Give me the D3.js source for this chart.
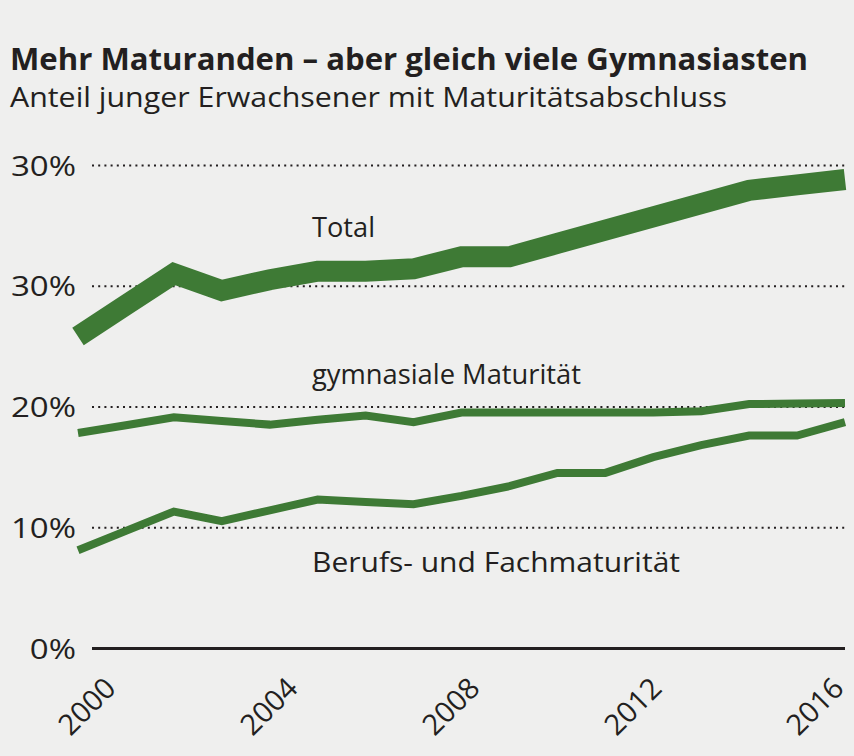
<!DOCTYPE html>
<html>
<head>
<meta charset="utf-8">
<script src="https://cdn.jsdelivr.net/npm/d3@7"></script>
<style>
  body { margin: 0; background: #efefee; }
  svg { display: block; }
</style>
</head>
<body>
<svg width="854" height="756"></svg>
<script>
// Daten (Anteil in %)
const years = [2000, 2001, 2002, 2003, 2004, 2005, 2006, 2007, 2008, 2009, 2010, 2011, 2012, 2013, 2014, 2015, 2016];
const total = [25.8, 28.4, 31.0, 29.6, 30.5, 31.2, 31.2, 31.4, 32.4, 32.4, 33.5, 34.6, 35.7, 36.8, 37.9, 38.35, 38.8];
const gymnasial = [17.8, 18.45, 19.1, 18.8, 18.5, 18.9, 19.25, 18.7, 19.5, 19.5, 19.5, 19.5, 19.5, 19.6, 20.2, 20.25, 20.3];
const berufs = [8.1, 9.7, 11.3, 10.5, 11.4, 12.3, 12.1, 11.9, 12.6, 13.4, 14.5, 14.5, 15.8, 16.8, 17.6, 17.6, 18.7];
const seriesNames = ["Total", "gymnasiale Maturität", "Berufs- und Fachmaturität"];
const yTicks = [0, 10, 20, 30, 40];
const yTickLabels = ["0%", "10%", "20%", "30%", "30%"];
const xTicks = [2000, 2004, 2008, 2012, 2016];

const green = "#3e7a35";
const ink = "#231f20";
const font = "'Open Sans', 'Noto Sans', sans-serif";

const svg = d3.select("svg");

// Titel
svg.append("text")
   .attr("x", 10).attr("y", 70)
   .attr("font-family", font).attr("font-weight", 700).attr("font-size", 30)
   .attr("fill", ink)
   .attr("textLength", 798).attr("lengthAdjust", "spacingAndGlyphs")
   .text("Mehr Maturanden – aber gleich viele Gymnasiasten");

svg.append("text")
   .attr("x", 10).attr("y", 107)
   .attr("font-family", font).attr("font-size", 28)
   .attr("fill", ink)
   .attr("textLength", 717).attr("lengthAdjust", "spacingAndGlyphs")
   .text("Anteil junger Erwachsener mit Maturitätsabschluss");

// Skalen
const x = d3.scaleLinear().domain([2000, 2016]).range([78, 845]);
const xLabel = d3.scaleLinear().domain([2000, 2016]).range([117, 845]);
const y = d3.scaleLinear().domain([0, 40]).range([648, 165]);

// Y-Achse mit gepunkteten Linien
const yAxis = svg.append("g")
   .attr("transform", "translate(92,0)")
   .call(d3.axisLeft(y)
      .tickValues(yTicks)
      .tickFormat((d, i) => yTickLabels[i])
      .tickSize(-(845 - 92))
      .tickPadding(16));

yAxis.select(".domain").remove();
yAxis.selectAll(".tick line")
   .attr("stroke", ink)
   .attr("stroke-width", d => d === 0 ? 3 : 2)
   .attr("stroke-dasharray", d => d === 0 ? null : "2,4.2");
yAxis.selectAll(".tick text")
   .attr("font-family", font)
   .attr("font-size", 28)
   .attr("fill", ink)
   .attr("dy", "0.36em")
   .each(function() {
     const w = this.getComputedTextLength();
     d3.select(this).attr("textLength", w * 1.18).attr("lengthAdjust", "spacingAndGlyphs");
   });

// X-Achse (Beschriftung gedreht)
const xAxis = svg.append("g")
   .attr("transform", "translate(0,690)")
   .call(d3.axisBottom(xLabel).tickValues(xTicks).tickFormat(d3.format("d")).tickSize(0).tickPadding(0));

xAxis.select(".domain").remove();
xAxis.selectAll(".tick text")
   .attr("font-family", font)
   .attr("font-size", 29)
   .attr("fill", ink)
   .attr("text-anchor", "end")
   .attr("dy", 0)
   .attr("y", 0)
   .attr("transform", "rotate(-45)");

// Linien
const line = d3.line()
   .x((d, i) => x(years[i]))
   .y(d => y(d));

svg.append("path")
   .datum(total)
   .attr("fill", "none")
   .attr("stroke", green)
   .attr("stroke-width", 21)
   .attr("stroke-linejoin", "miter")
   .attr("d", line);

[gymnasial, berufs].forEach(s => {
  svg.append("path")
     .datum(s)
     .attr("fill", "none")
     .attr("stroke", green)
     .attr("stroke-width", 8)
     .attr("stroke-linejoin", "miter")
     .attr("d", line);
});

// Beschriftungen der Linien
const labelPos = [[312, 237, 63], [312, 384, 269], [312, 572, 368]];
seriesNames.forEach((name, i) => {
  svg.append("text")
     .attr("x", labelPos[i][0]).attr("y", labelPos[i][1])
     .attr("font-family", font).attr("font-size", 28)
     .attr("fill", ink)
     .attr("textLength", labelPos[i][2]).attr("lengthAdjust", "spacingAndGlyphs")
     .text(name);
});
</script>
</body>
</html>
